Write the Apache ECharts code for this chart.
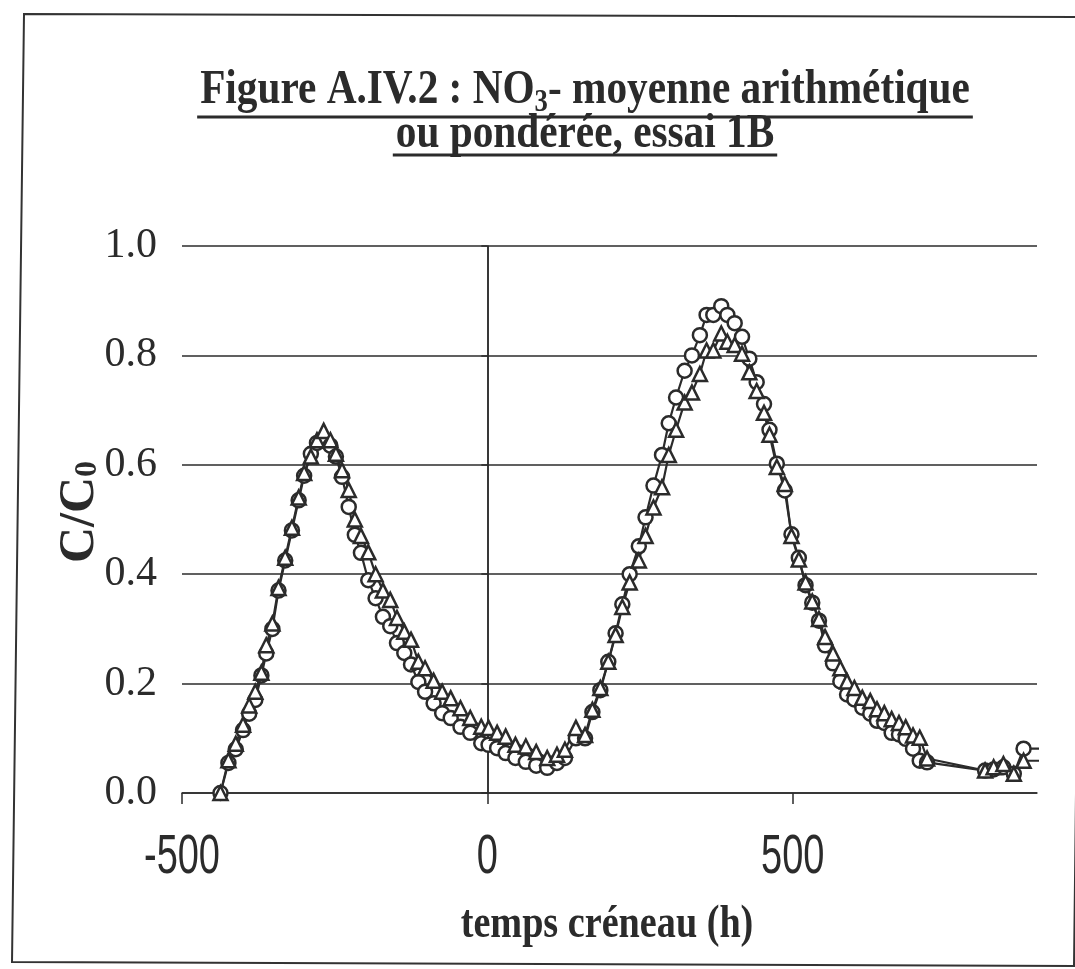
<!DOCTYPE html>
<html>
<head>
<meta charset="utf-8">
<script src="https://cdn.jsdelivr.net/npm/echarts@6/dist/echarts.min.js"></script>
<style>
  html, body { margin: 0; padding: 0; background: #fff; }
  #chart { width: 1075px; height: 969px; }
</style>
</head>
<body>
<div id="chart"></div>
<script>
// Temps créneau (h) and C/C0 for the two averages of essai 1B
const times = [
  -437, -424, -412, -400, -390, -380, -370, -362, -352, -342, -331, -320, -309, -300, -289, -279, -268,
  -257, -248, -238, -227, -217, -207, -195, -183, -171, -159, -148, -136, -125, -113, -102, -88, -74, -60,
  -44, -28, -10, 2, 16, 30, 46, 63, 80, 98, 114, 127, 145, 160, 172, 185, 198, 210, 221, 233,
  248, 259, 272, 286, 297, 309, 323, 335, 348, 359, 370, 383, 393, 405, 417, 429, 441, 453, 462, 474,
  487, 498, 510, 521, 532, 543, 553, 566, 578, 589, 601, 614, 627, 638, 650, 662, 674, 685, 697, 708,
  720, 815, 829, 845, 862, 878, 960
];
// moyenne arithmétique (cercles)
const arith = [
  0, 0.055, 0.08, 0.115, 0.145, 0.17, 0.215, 0.255, 0.30, 0.37, 0.425, 0.48, 0.535, 0.58, 0.62, 0.64, 0.645,
  0.635, 0.615, 0.578, 0.523, 0.472, 0.439, 0.389, 0.356, 0.322, 0.305, 0.274, 0.256, 0.235, 0.203, 0.185, 0.164, 0.146, 0.137,
  0.121, 0.110, 0.091, 0.088, 0.082, 0.073, 0.064, 0.057, 0.050, 0.046, 0.055, 0.064, 0.100, 0.100, 0.148, 0.188, 0.240, 0.292, 0.345, 0.400,
  0.451, 0.504, 0.562, 0.618, 0.676, 0.723, 0.772, 0.800, 0.837, 0.874, 0.874, 0.890, 0.874, 0.859, 0.834, 0.794, 0.751, 0.711, 0.664, 0.602,
  0.553, 0.473, 0.430, 0.380, 0.348, 0.315, 0.270, 0.237, 0.204, 0.180, 0.171, 0.156, 0.145, 0.132, 0.128, 0.110, 0.107, 0.099, 0.081, 0.059,
  0.056, 0.041, 0.043, 0.047, 0.035, 0.081, 0.081
];
// moyenne pondérée (triangles)
const pond = [
  0, 0.060, 0.090, 0.125, 0.160, 0.185, 0.220, 0.270, 0.310, 0.375, 0.430, 0.485, 0.540, 0.585, 0.615, 0.645, 0.662,
  0.645, 0.620, 0.590, 0.554, 0.500, 0.470, 0.440, 0.400, 0.370, 0.353, 0.320, 0.295, 0.280, 0.240, 0.228, 0.205, 0.185, 0.173,
  0.155, 0.137, 0.121, 0.119, 0.110, 0.103, 0.088, 0.085, 0.075, 0.064, 0.070, 0.079, 0.119, 0.106, 0.152, 0.192, 0.240, 0.289, 0.340, 0.385,
  0.425, 0.470, 0.522, 0.559, 0.618, 0.664, 0.714, 0.732, 0.766, 0.809, 0.809, 0.840, 0.825, 0.819, 0.803, 0.769, 0.735, 0.695, 0.655, 0.596,
  0.565, 0.470, 0.427, 0.385, 0.350, 0.318, 0.285, 0.255, 0.228, 0.204, 0.192, 0.174, 0.168, 0.153, 0.146, 0.135, 0.128, 0.120, 0.105, 0.101,
  0.063, 0.041, 0.047, 0.053, 0.035, 0.059, 0.059
];
const xTicks = [-500, 0, 500];
const xTickLabels = ['-500', '0', '500'];

const INK = '#2b2b2b';
const SERIF = '"Liberation Serif", "Times New Roman", serif';
const SANS = '"Liberation Sans", Arial, sans-serif';

const chart = echarts.init(document.getElementById('chart'), null, { renderer: 'canvas' });

function measure(text, font) {
  const ctx = measure.ctx || (measure.ctx = document.createElement('canvas').getContext('2d'));
  ctx.font = font;
  return ctx.measureText(text).width;
}

// A line of text made of runs (for subscripts), centred on the group origin
function textRun(pieces, weight) {
  let total = 0;
  const items = pieces.map(p => {
    const font = weight + ' ' + p.size + 'px ' + SERIF;
    const w = measure(p.text, font);
    const it = { p: p, font: font, x: total };
    total += w;
    return it;
  });
  const children = items.map(it => ({
    type: 'text',
    x: it.x - total / 2,
    y: it.p.dy || 0,
    style: {
      text: it.p.text, font: it.font, fill: INK,
      align: 'left', textAlign: 'left', verticalAlign: 'middle', textVerticalAlign: 'middle'
    }
  }));
  return { width: total, children: children };
}

function seriesData(vals) {
  return times.map((t, i) => [t, vals[i]]);
}

const markerStyle = { color: '#ffffff', borderColor: INK, borderWidth: 2.5 };

chart.setOption({
  animation: false,
  backgroundColor: '#ffffff',
  grid: { left: 182, right: 38, top: 246, bottom: 176, containLabel: false },
  xAxis: {
    type: 'value', min: -500, max: 900, interval: 500,
    axisLine: { show: true, lineStyle: { color: INK, width: 1.5 } },
    axisTick: { show: true, length: 11, customValues: xTicks, lineStyle: { color: INK, width: 1.5 } },
    axisLabel: { show: false },
    splitLine: { show: true, showMinLine: false, showMaxLine: false, lineStyle: { color: INK, width: 1.5 } }
  },
  yAxis: {
    type: 'value', min: 0, max: 1, interval: 0.2,
    axisLine: { show: true, lineStyle: { color: INK, width: 1.5 } },
    axisTick: { show: true, length: 6, lineStyle: { color: INK, width: 1.5 } },
    axisLabel: {
      margin: 25, color: INK, fontFamily: SERIF, fontSize: 42,
      formatter: v => v.toFixed(1)
    },
    splitLine: { show: true, lineStyle: { color: INK, width: 1.5 } }
  },
  series: [
    {
      name: 'moyenne arithmétique', type: 'line', data: seriesData(arith),
      symbol: 'circle', symbolSize: 14, clip: true,
      lineStyle: { color: INK, width: 2.2 }, itemStyle: markerStyle
    },
    {
      name: 'moyenne pondérée', type: 'line', data: seriesData(pond),
      symbol: 'triangle', symbolSize: 14, clip: true,
      lineStyle: { color: INK, width: 2.2 }, itemStyle: markerStyle
    }
  ]
});

// Title, axis names, x tick labels and page frame
const TITLE_SX = 0.86;
const t1 = textRun([
  { text: 'Figure A.IV.2 : NO', size: 48 },
  { text: '3', size: 31, dy: 12 },
  { text: '- moyenne arithmétique', size: 48 }
], 'bold');
const t2 = textRun([{ text: 'ou pondérée, essai 1B', size: 48 }], 'bold');
const xName = textRun([{ text: 'temps créneau (h)', size: 46 }], 'bold');
const yName = textRun([
  { text: 'C/C', size: 50 },
  { text: '0', size: 32, dy: 8 }
], 'bold');

const titleX = 585;
const graphics = [
  {
    type: 'polygon', silent: true,
    shape: { points: [[24, 14], [1085, 17], [1074, 966], [12, 962]] },
    style: { fill: 'none', stroke: '#333', lineWidth: 2 }
  },
  { type: 'group', x: titleX, y: 91, scaleX: TITLE_SX, children: t1.children },
  { type: 'group', x: titleX, y: 135, scaleX: TITLE_SX, children: t2.children },
  {
    type: 'line', shape: { x1: titleX - t1.width * TITLE_SX / 2 - 3, y1: 117, x2: titleX + t1.width * TITLE_SX / 2 + 3, y2: 117 },
    style: { stroke: INK, lineWidth: 3 }
  },
  {
    type: 'line', shape: { x1: titleX - t2.width * TITLE_SX / 2 - 3, y1: 155, x2: titleX + t2.width * TITLE_SX / 2 + 3, y2: 155 },
    style: { stroke: INK, lineWidth: 3 }
  },
  { type: 'group', x: 607, y: 925, scaleX: 0.83, children: xName.children },
  { type: 'group', x: 80, y: 512, rotation: Math.PI / 2, children: yName.children }
];

xTicks.forEach((v, i) => {
  const px = chart.convertToPixel({ xAxisIndex: 0 }, v);
  graphics.push({
    type: 'text', x: px, y: 858, scaleX: 0.69,
    style: {
      text: xTickLabels[i], font: '55px ' + SANS, fill: INK,
      align: 'center', textAlign: 'center', verticalAlign: 'middle', textVerticalAlign: 'middle'
    }
  });
});

chart.setOption({ graphic: graphics });
</script>
</body>
</html>
